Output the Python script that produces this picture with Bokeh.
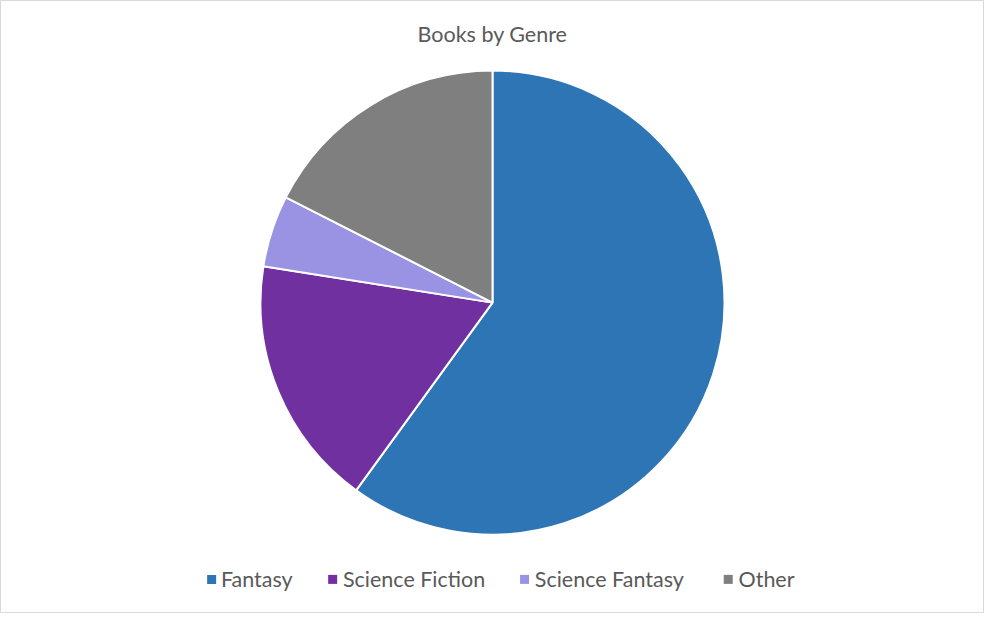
import numpy as np
from bokeh.plotting import figure
from bokeh.models import ColumnDataSource, Range1d
from bokeh.core.properties import value
from bokeh.embed import file_html
from bokeh.resources import INLINE

# data
genres = ["Fantasy", "Science Fiction", "Science Fantasy", "Other"]
books = [24, 7, 2, 7]
colors = ["#2E75B6", "#7030A0", "#9A93E3", "#7F7F7F"]

W, H = 984, 613
SX, SY = W / 1000, H / 629  # reference is 1000x629
FONT = "Lato"

p = figure(width=W, height=H, output_backend="svg", toolbar_location=None,
           x_range=Range1d(0, W), y_range=Range1d(0, H), min_border=0)
p.axis.visible = False
p.grid.visible = False
p.outline_line_color = "#D9D9D9"
p.background_fill_color = "white"
p.border_fill_color = "white"

def px(x):
    return x * SX

def py(y):
    return H - y * SY

# wedges, clockwise from 12 o'clock
frac = np.array(books, dtype=float) / sum(books)
cum = np.concatenate([[0], np.cumsum(frac)])
start = np.pi / 2 - 2 * np.pi * cum[:-1]
end = np.pi / 2 - 2 * np.pi * cum[1:]
src = ColumnDataSource(dict(start=start, end=end, color=colors, genre=genres))
p.wedge(x=px(500), y=py(310), radius=232, start_angle="start", end_angle="end",
        direction="clock", fill_color="color", line_color="white", line_width=2,
        source=src)

p.text(x=[px(500)], y=[py(34)], text=["Books by Genre"], text_align="center",
       text_baseline="middle", text_font=value(FONT), text_font_size="21.5px",
       text_color="#595959")

# legend, laid out like the office one
sq_x = [210, 333, 528, 735]
lab_x = [224, 348, 543, 750]
ly = py(594)
p.rect(x=[px(x) + 4.5 for x in sq_x], y=[ly] * 4, width=9, height=9,
       fill_color=colors, line_color=None)
p.text(x=[px(x) for x in lab_x], y=[ly] * 4, text=genres, text_align="left",
       text_baseline="middle", text_font=value(FONT), text_font_size="21.5px",
       text_color="#595959")

open("out.html", "w").write(file_html(p, INLINE))
